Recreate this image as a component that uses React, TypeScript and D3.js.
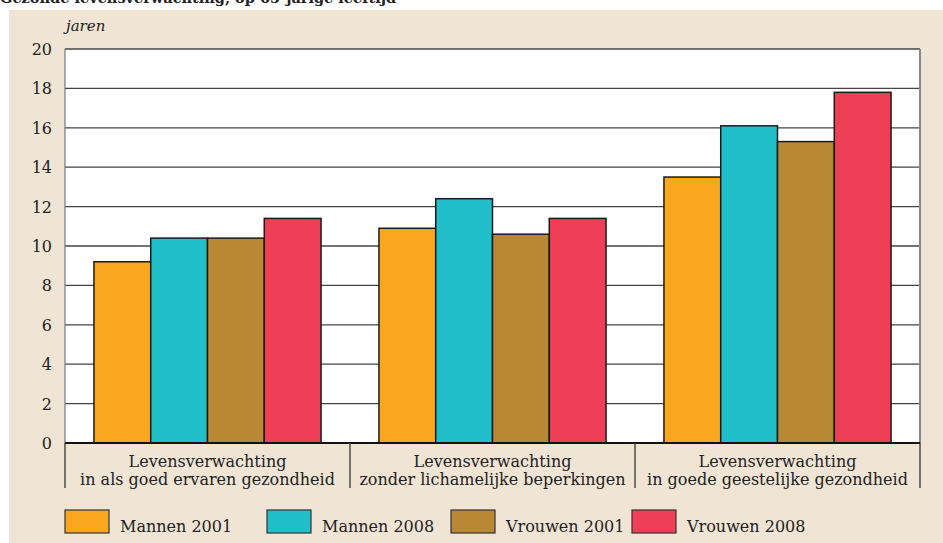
import React, { useRef, useEffect } from 'react';
import * as d3 from 'd3';

const categories = [
  ['Levensverwachting', 'in als goed ervaren gezondheid'],
  ['Levensverwachting', 'zonder lichamelijke beperkingen'],
  ['Levensverwachting', 'in goede geestelijke gezondheid'],
];
const seriesNames = ['Mannen 2001', 'Mannen 2008', 'Vrouwen 2001', 'Vrouwen 2008'];
const mannen2001 = [9.2, 10.9, 13.5];
const mannen2008 = [10.4, 12.4, 16.1];
const vrouwen2001 = [10.4, 10.6, 15.3];
const vrouwen2008 = [11.4, 11.4, 17.8];
const yTicks = [0, 2, 4, 6, 8, 10, 12, 14, 16, 18, 20];
const colors = ['#f9a71e', '#20bfca', '#b98835', '#ef3f57'];

const W = 943;
const H = 543;
const font = '"DejaVu Serif", serif';

const App: React.FC = () => {
  const ref = useRef<SVGSVGElement | null>(null);

  useEffect(() => {
    const svg = d3.select(ref.current);
    svg.selectAll('*').remove();

    const series = [mannen2001, mannen2008, vrouwen2001, vrouwen2008];
    const m = { left: 65, right: 920, top: 49, bottom: 443 };

    svg.append('rect').attr('x', 9).attr('y', 10).attr('width', W).attr('height', H).attr('fill', '#f0e4d4');

    svg.append('text')
      .attr('x', 0).attr('y', 3)
      .style('font-family', font).style('font-size', '14.5px').style('font-weight', 'bold')
      .attr('fill', '#222')
      .text('Gezonde levensverwachting, op 65-jarige leeftijd');

    const x0 = d3.scaleBand<number>().domain(d3.range(categories.length)).range([m.left, m.right]).paddingInner(0).paddingOuter(0);
    const x1 = d3.scaleBand<number>().domain(d3.range(series.length)).range([0, x0.bandwidth()]).paddingOuter(0.51).paddingInner(0);
    const y = d3.scaleLinear().domain([0, 20]).range([m.bottom, m.top]);

    svg.append('rect')
      .attr('x', m.left).attr('y', m.top)
      .attr('width', m.right - m.left).attr('height', m.bottom - m.top)
      .attr('fill', '#fff');

    // gridlines
    svg.append('g').selectAll('line').data(yTicks.filter(t => t > 0)).join('line')
      .attr('x1', m.left).attr('x2', m.right)
      .attr('y1', d => y(d)).attr('y2', d => y(d))
      .attr('stroke', '#444').attr('stroke-width', 1.3);

    // left & right borders
    svg.append('line').attr('x1', m.left).attr('x2', m.left).attr('y1', m.top).attr('y2', m.bottom)
      .attr('stroke', '#777').attr('stroke-width', 1.2);
    svg.append('line').attr('x1', m.right).attr('x2', m.right).attr('y1', m.top).attr('y2', m.bottom)
      .attr('stroke', '#888').attr('stroke-width', 2);

    // y tick labels
    svg.append('g').selectAll('text').data(yTicks).join('text')
      .attr('x', 52).attr('y', d => y(d) + 6)
      .attr('text-anchor', 'end')
      .style('font-family', font).style('font-size', '16px')
      .attr('fill', '#222')
      .text(d => d);

    svg.append('text')
      .attr('x', 66).attr('y', 31)
      .style('font-family', font).style('font-size', '15px').style('font-style', 'italic')
      .attr('fill', '#222')
      .text('jaren');

    // bars
    series.forEach((vals, si) => {
      svg.append('g').selectAll('rect').data(vals).join('rect')
        .attr('x', (_, ci) => (x0(ci) ?? 0) + (x1(si) ?? 0))
        .attr('y', d => y(d))
        .attr('width', x1.bandwidth())
        .attr('height', d => y(0) - y(d))
        .attr('fill', colors[si])
        .attr('stroke', '#1a1a1a').attr('stroke-width', 1.5);
    });

    // baseline
    svg.append('line').attr('x1', m.left).attr('x2', m.right).attr('y1', m.bottom).attr('y2', m.bottom)
      .attr('stroke', '#111').attr('stroke-width', 2);

    // category separators
    const seps = [...d3.range(categories.length).map(i => x0(i) ?? 0), m.right];
    svg.append('g').selectAll('line').data(seps).join('line')
      .attr('x1', d => d).attr('x2', d => d)
      .attr('y1', m.bottom).attr('y2', 488)
      .attr('stroke', '#333').attr('stroke-width', 1.3);

    // category labels
    categories.forEach((lines, ci) => {
      const cx = (x0(ci) ?? 0) + x0.bandwidth() / 2;
      lines.forEach((ln, li) => {
        svg.append('text')
          .attr('x', cx).attr('y', 467 + li * 17.5)
          .attr('text-anchor', 'middle')
          .style('font-family', font).style('font-size', '16px')
          .attr('fill', '#222')
          .text(ln);
      });
    });

    // legend
    const legX = [65, 267, 451, 632];
    seriesNames.forEach((name, i) => {
      svg.append('rect')
        .attr('x', legX[i]).attr('y', 510).attr('width', 44).attr('height', 23)
        .attr('fill', colors[i]).attr('stroke', '#333').attr('stroke-width', 1.2);
      svg.append('text')
        .attr('x', legX[i] + 55).attr('y', 532)
        .style('font-family', font).style('font-size', '16px')
        .attr('fill', '#222')
        .text(name);
    });
  }, []);

  return <svg ref={ref} width={W} height={H} style={{ position: 'absolute', top: 0, left: 0 }} />;
};

export default App;
